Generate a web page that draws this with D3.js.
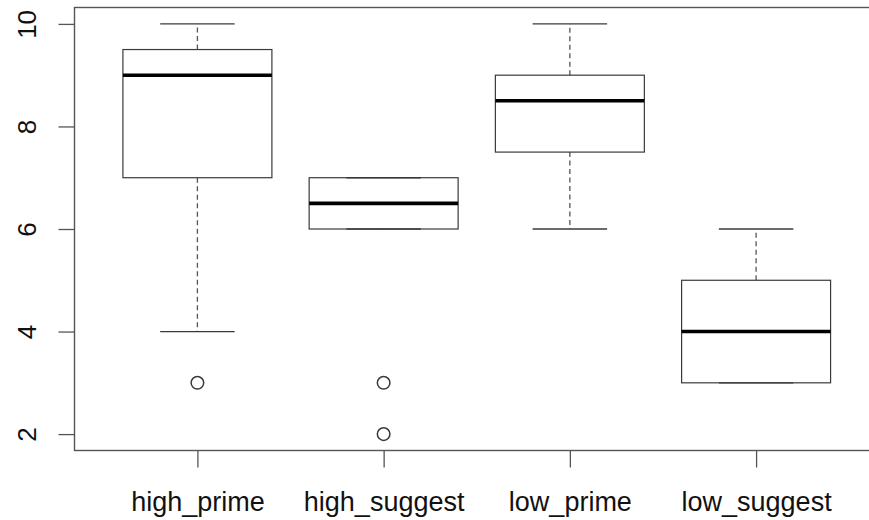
<html>
<head>
<meta charset="utf-8">
<title>Boxplot</title>
<script src="https://d3js.org/d3.v7.min.js"></script>
<style>
  body { margin: 0; background: #fff; }
  text { font-family: "Liberation Sans", Arial, Helvetica, sans-serif; }
</style>
</head>
<body>
<svg width="869" height="520"></svg>
<script>
// groups and five-number summaries
var groups = ["high_prime", "high_suggest", "low_prime", "low_suggest"];
var whiskerLow  = [4, 6, 6, 3];
var quart1      = [7, 6, 7.5, 3];
var medians     = [9, 6.5, 8.5, 4];
var quart3      = [9.5, 7, 9, 5];
var whiskerHigh = [10, 7, 10, 6];
var outliers    = [[3], [3, 2], [], []];
var yTicks = [2, 4, 6, 8, 10];

var svg = d3.select("svg");
var ink = "#3a3a3a";

// R style: xlim 0.5..4.5 and ylim 2..10, each widened by 4%
var x = d3.scaleLinear().domain([0.34, 4.66]).range([74.5, 879]);
var y = d3.scaleLinear().domain([1.68, 10.32]).range([450.5, 7.5]);

var boxW = x(1.4) - x(1);
var capW = x(1.2) - x(1);

var data = groups.map(function(g, i) {
  return {name: g, pos: i + 1, lo: whiskerLow[i], q1: quart1[i], med: medians[i],
          q3: quart3[i], hi: whiskerHigh[i], out: outliers[i]};
});

var box = svg.selectAll(".box")
  .data(data)
  .enter()
  .append("g")
  .attr("class", "box");

// dashed whiskers
box.append("line")
  .attr("x1", d => x(d.pos)).attr("x2", d => x(d.pos))
  .attr("y1", d => y(d.q3)).attr("y2", d => y(d.hi))
  .attr("stroke", "#555").attr("stroke-width", 1.3).attr("stroke-dasharray", "5,3.5");
box.append("line")
  .attr("x1", d => x(d.pos)).attr("x2", d => x(d.pos))
  .attr("y1", d => y(d.q1)).attr("y2", d => y(d.lo))
  .attr("stroke", "#555").attr("stroke-width", 1.3).attr("stroke-dasharray", "5,3.5");

// staples
["hi", "lo"].forEach(function(k) {
  box.append("line")
    .attr("x1", d => x(d.pos) - capW).attr("x2", d => x(d.pos) + capW)
    .attr("y1", d => y(d[k])).attr("y2", d => y(d[k]))
    .attr("stroke", ink).attr("stroke-width", 1.3);
});

box.append("rect")
  .attr("x", d => x(d.pos) - boxW)
  .attr("width", boxW * 2)
  .attr("y", d => y(d.q3))
  .attr("height", d => y(d.q1) - y(d.q3))
  .attr("fill", "none")
  .attr("stroke", ink)
  .attr("stroke-width", 1.2);

box.append("line")
  .attr("x1", d => x(d.pos) - boxW).attr("x2", d => x(d.pos) + boxW)
  .attr("y1", d => y(d.med)).attr("y2", d => y(d.med))
  .attr("stroke", "#000").attr("stroke-width", 3.6);

box.selectAll("circle")
  .data(d => d.out.map(v => ({pos: d.pos, v: v})))
  .enter()
  .append("circle")
  .attr("cx", d => x(d.pos))
  .attr("cy", d => y(d.v))
  .attr("r", 6.3)
  .attr("fill", "none")
  .attr("stroke", ink)
  .attr("stroke-width", 1.5);

// frame
svg.append("rect")
  .attr("x", x.range()[0]).attr("y", y.range()[1])
  .attr("width", x.range()[1] - x.range()[0])
  .attr("height", y.range()[0] - y.range()[1])
  .attr("fill", "none").attr("stroke", "#555").attr("stroke-width", 1.4);

// y axis
var yAxis = svg.append("g")
  .attr("transform", `translate(${x.range()[0]},0)`)
  .call(d3.axisLeft(y).tickValues(yTicks).tickSize(16).tickFormat(d3.format("d")));
yAxis.select(".domain").remove();
yAxis.selectAll(".tick line").attr("stroke", "#555").attr("stroke-width", 1.3);
yAxis.selectAll(".tick text")
  .attr("x", null).attr("dy", null)
  .attr("transform", "translate(-39,0) rotate(-90)")
  .attr("text-anchor", "middle")
  .attr("fill", "#111")
  .style("font-size", "26px");

// x axis
var xAxis = svg.append("g")
  .attr("transform", `translate(0,${y.range()[0]})`)
  .call(d3.axisBottom(x).tickValues(data.map(d => d.pos)).tickSize(17)
        .tickFormat((d, i) => groups[i]));
xAxis.select(".domain").remove();
xAxis.selectAll(".tick line").attr("stroke", "#555").attr("stroke-width", 1.3);
xAxis.selectAll(".tick text")
  .attr("y", 60).attr("dy", null)
  .attr("fill", "#111")
  .style("font-size", "27px");
</script>
</body>
</html>
